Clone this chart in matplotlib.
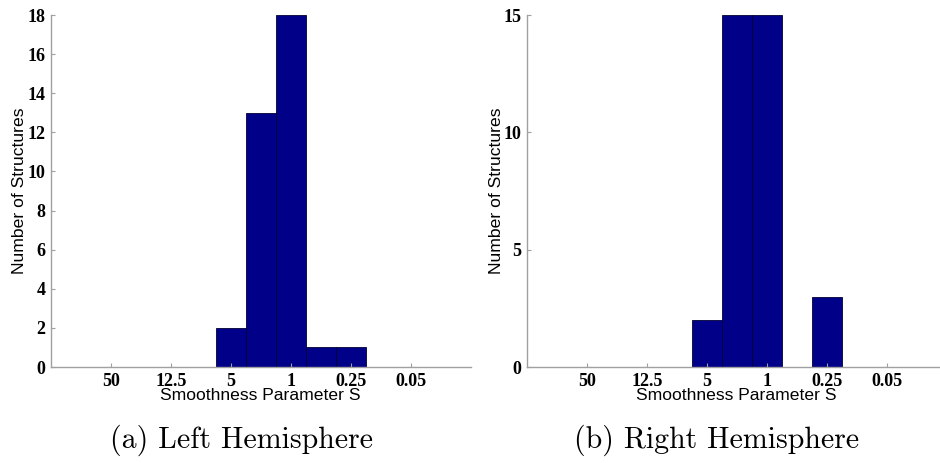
import matplotlib
matplotlib.use("Agg")
import matplotlib.pyplot as plt
import numpy as np

# Data
tick_labels = ["50", "12.5", "5", "1", "0.25", "0.05"]
bin_positions = [2.0, 2.5, 3.0, 3.5, 4.0]
left_counts = [2, 13, 18, 1, 1]
right_counts = [2, 15, 15, 0, 3]
left_yticks = list(range(0, 19, 2))
right_yticks = [0, 5, 10, 15]
captions = ["(a) Left Hemisphere", "(b) Right Hemisphere"]

bar_color = "#000088"
spine_color = "#a0a0a0"

fig = plt.figure(figsize=(9.4, 4.63), dpi=100)
W, H = 940, 463

def make_ax(x0_px, counts, yticks, ymax):
    ax = fig.add_axes([x0_px / W, 96 / H, 420 / W, 352 / H])
    ax.bar(bin_positions, counts, width=0.5, color=bar_color,
           edgecolor="#000033", linewidth=0.6, align="center")
    ax.set_xlim(-1, 6)
    ax.set_ylim(0, ymax)
    ax.set_xticks(range(len(tick_labels)))
    ax.set_xticklabels(tick_labels)
    ax.set_yticks(yticks)
    for s in ["top", "right"]:
        ax.spines[s].set_visible(False)
    for s in ["left", "bottom"]:
        ax.spines[s].set_color(spine_color)
        ax.spines[s].set_linewidth(1.0)
    ax.tick_params(direction="in", length=3, width=0.8, color=spine_color,
                   labelsize=13, pad=4)
    ax.tick_params(axis="x", pad=4)
    for lab in ax.get_xticklabels() + ax.get_yticklabels():
        lab.set_fontfamily("Liberation Serif")
        lab.set_fontweight("bold")
    ax.set_xlabel("Smoothness Parameter S", fontfamily="Liberation Sans",
                  fontsize=12.6)
    ax.set_ylabel("Number of Structures", fontfamily="Liberation Sans",
                  fontsize=12.6)
    ax.xaxis.set_label_coords(0.498, -0.06)
    return ax

axL = make_ax(51, left_counts, left_yticks, 18)
axL.yaxis.set_label_coords(-0.057, 0.5)
axR = make_ax(527, right_counts, right_yticks, 15)
axR.yaxis.set_label_coords(-0.055, 0.5)

fig.text(241 / W, 0.05, captions[0], fontfamily="cmr10", fontsize=21.5,
         ha="center", va="center")
fig.text(717 / W, 0.05, captions[1], fontfamily="cmr10", fontsize=21.5,
         ha="center", va="center")

fig.savefig("out.png", dpi=100)
